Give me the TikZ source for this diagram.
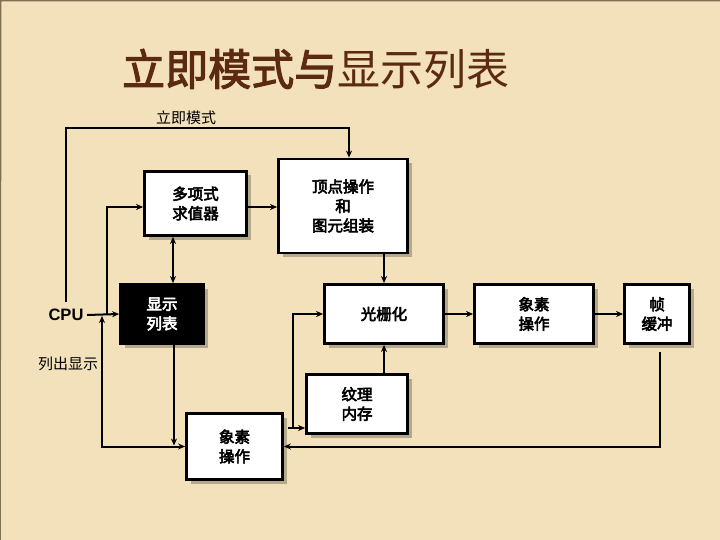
\documentclass[tikz,border=0pt]{standalone}
\usepackage{fontspec}
\setmainfont{Noto Sans CJK SC}
\newfontfamily\cjkb{Noto Sans CJK SC}[FakeBold=3.5]
\newfontfamily\cjkt{Noto Sans CJK SC}[FakeBold=2.5]
\newfontfamily\arialb{Liberation Sans}
\usetikzlibrary{arrows.meta,shadows}
\definecolor{bgcol}{HTML}{F2E1BA}
\definecolor{titlecol}{HTML}{5C2A12}
\definecolor{framecol}{HTML}{7D7050}
\tikzset{
  box/.style={draw=black, line width=2.8pt, fill=white, align=center, inner sep=0pt,
    font=\cjkb\fontsize{15.5}{19.5}\selectfont,
    drop shadow={shadow xshift=4pt, shadow yshift=-4pt, fill=black!25!bgcol, opacity=1}},
  blackbox/.style={box, fill=black, text=white},
  arr/.style={line width=2pt, -{Stealth[length=7pt,width=6pt]}},
  dblarr/.style={line width=2pt, {Stealth[length=7pt,width=6pt]}-{Stealth[length=7pt,width=6pt]}},
  plainlbl/.style={inner sep=0pt, font=\fontsize{15}{18}\selectfont}
}
\begin{document}
\begin{tikzpicture}[x=1pt,y=-1pt]
\useasboundingbox (0,0) rectangle (720,540);
\fill[bgcol] (0,0) rectangle (720,540);
\draw[framecol, line width=1.5pt] (0,540) -- (0.75,0.75) -- (720,0.75);

% title
\node[inner sep=0pt, anchor=west, text=titlecol, font=\fontsize{43}{47}\selectfont] (title) at (122,69)
  {{\cjkt 立即模式与}显示列表};

% nodes
\node[box, minimum width=129pt, minimum height=94pt] (vertex) at (343,206) {顶点操作\\和\\图元组装};
\node[box, minimum width=102pt, minimum height=64pt] (poly) at (195.5,203.5) {多项式\\求值器};
\node[blackbox, minimum width=83pt, minimum height=59pt] (dlist) at (162,314) {显示\\列表};
\node[box, minimum width=119pt, minimum height=59pt] (raster) at (384,314) {光栅化};
\node[box, minimum width=119pt, minimum height=59pt] (pixa) at (534,314) {象素\\操作};
\node[box, minimum width=65pt, minimum height=59pt] (fbuf) at (657,314) {帧\\缓冲};
\node[box, minimum width=101pt, minimum height=59pt] (tex) at (357,404) {纹理\\内存};
\node[box, minimum width=96pt, minimum height=66pt] (pixb) at (234.5,446.5) {象素\\操作};

\node[inner sep=3.5pt, font=\arialb\bfseries\fontsize{16.5}{18}\selectfont] (cpu) at (66,315) {CPU};
\node[plainlbl] (lbla) at (186,118) {立即模式};
\node[plainlbl] (lblb) at (68,364) {列出显示};

% helper coordinates
\coordinate (cputop) at (66,302);
\coordinate (jpoly) at (107,314);
\coordinate (cdl) at (173,0);
\coordinate (cdown) at (174,0);
\coordinate (jret) at (102,316);
\coordinate (fbstart) at (660,352);
\coordinate (texlow) at (288,428);
\coordinate (texv) at (293,428);

% connectors
\draw[arr] (cputop) -- (66,128) -| ([xshift=6pt]vertex.north);
\draw[arr] (cpu.east) -- (dlist.west);
\draw[arr] (jpoly) |- ([yshift=-3.5pt]poly.west);
\draw[arr] ([yshift=-3.5pt]poly.east) -- ([yshift=-3.5pt]poly.east -| vertex.west);
\draw[dblarr] (poly.south -| cdl) -- (dlist.north -| cdl);
\draw[arr] (vertex.south -| raster.north) -- (raster.north);
\draw[arr] (raster.east) -- (pixa.west);
\draw[arr] (pixa.east) -- (fbuf.west);
\draw[arr] (fbstart) |- (pixb.east);
\draw[arr] (dlist.south -| cdown) -- ([yshift=1pt]cdown |- pixb.west);
\draw[dblarr] (jret) |- (pixb.west);
\draw[arr] (tex.north -| raster.south) -- (raster.south);
\draw[arr] (texv) |- (raster.west);
\draw[arr] (texlow) -- (texlow -| tex.west);
\end{tikzpicture}
\end{document}
